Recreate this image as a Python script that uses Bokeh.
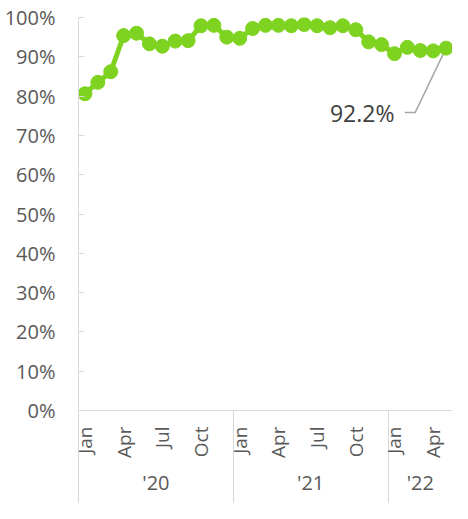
from bokeh.plotting import figure
from bokeh.models import FixedTicker, LinearAxis, Range1d, PrintfTickFormatter
from bokeh.embed import file_html
from bokeh.resources import INLINE
from bokeh.core.properties import value

# ---- data ----
months = ["Jan", "Feb", "Mar", "Apr", "May", "Jun", "Jul", "Aug", "Sep", "Oct", "Nov", "Dec",
          "Jan", "Feb", "Mar", "Apr", "May", "Jun", "Jul", "Aug", "Sep", "Oct", "Nov", "Dec",
          "Jan", "Feb", "Mar", "Apr", "May"]
years = ["'20", "'21", "'22"]
year_counts = [12, 12, 5]
values = [80.6, 83.5, 86.2, 95.4, 96.0, 93.3, 92.7, 94.0, 94.1, 97.9, 98.0, 95.0,
          94.7, 97.2, 98.0, 98.0, 97.9, 98.2, 97.9, 97.4, 97.9, 96.9, 93.8, 93.1,
          90.8, 92.4, 91.6, 91.5, 92.2]
shown_months = ["Jan", "Apr", "Jul", "Oct"]
y_ticks = [0, 10, 20, 30, 40, 50, 60, 70, 80, 90, 100]
last_label = "92.2%"

GREEN = "#7ED321"
GRAY_TXT = "#595959"
AXIS_C = "#D9D9D9"
FONT = "Open Sans"

n = len(values)
xs = list(range(n))

p = figure(width=452, height=503, output_backend="svg", toolbar_location=None,
           x_range=Range1d(-0.5, n - 0.5), y_range=Range1d(0, 100),
           min_border_left=78, min_border_top=17, min_border_right=0, min_border_bottom=93,
           x_axis_location=None)
p.outline_line_color = None
p.xgrid.visible = False
p.ygrid.visible = False
p.background_fill_color = "white"
p.border_fill_color = "white"

# y axis
ya = p.yaxis[0]
ya.ticker = FixedTicker(ticks=y_ticks)
ya.formatter = PrintfTickFormatter(format="%d%%")
ya.axis_line_color = AXIS_C
ya.major_tick_line_color = AXIS_C
ya.major_tick_in = 6
ya.major_tick_out = 0
ya.minor_tick_line_color = None
ya.major_label_standoff = 23
ya.major_label_text_font = FONT
ya.major_label_text_font_size = "20px"
ya.major_label_text_color = GRAY_TXT

# separators between year groups
seps = [-0.499]
acc = 0
for c in year_counts[:-1]:
    acc += c
    seps.append(acc - 0.5)

SEP_LEN = 100

# month axis
mt = [i for i in xs if months[i] in shown_months]
ma = LinearAxis(ticker=FixedTicker(ticks=mt, minor_ticks=seps),
                major_label_overrides={i: months[i] for i in mt})
ma.axis_line_color = AXIS_C
ma.major_tick_line_color = None
ma.major_tick_out = 0
ma.major_tick_in = 0
ma.minor_tick_line_color = AXIS_C
ma.minor_tick_in = 0
ma.minor_tick_out = SEP_LEN
ma.major_label_orientation = 1.5707963
ma.major_label_standoff = 16 - SEP_LEN
ma.major_label_text_font = FONT
ma.major_label_text_font_size = "19px"
ma.major_label_text_color = GRAY_TXT
p.add_layout(ma, "below")

# year axis
centers = []
acc = 0
for c in year_counts:
    centers.append(acc + (c - 1) / 2)
    acc += c
ya2 = LinearAxis(ticker=FixedTicker(ticks=centers, minor_ticks=seps),
                 major_label_overrides={c: y for c, y in zip(centers, years)})
ya2.axis_line_color = None
ya2.major_tick_line_color = None
ya2.major_tick_out = 0
ya2.major_tick_in = 0
ya2.minor_tick_line_color = AXIS_C
ya2.minor_tick_in = 0
ya2.minor_tick_out = SEP_LEN
ya2.major_label_standoff = 8 - SEP_LEN
ya2.major_label_text_font = FONT
ya2.major_label_text_font_size = "20px"
ya2.major_label_text_color = GRAY_TXT
p.add_layout(ya2, "below")

# leader line + label for last point
lx, lv = xs[-1], values[-1]
p.line([lx - 3.2, lx - 2.4, lx], [lv - 16.4, lv - 16.4, lv], line_color="#A6A6A6", line_width=1.5)

p.line(xs, values, line_color=GREEN, line_width=5)
p.scatter(xs, values, size=14, fill_color=GREEN, line_color=GREEN)

p.text(x=[lx - 4.0], y=[lv - 16.6], text=[last_label], text_align="right", text_baseline="middle",
       text_font=value(FONT), text_font_size="23px", text_color="#404040")

open("out.html", "w").write(file_html(p, INLINE))
